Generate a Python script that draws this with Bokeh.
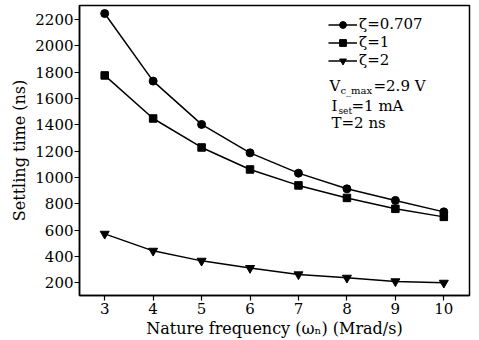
from bokeh.plotting import figure
from bokeh.models import Legend, LegendItem, Label, Range1d, FixedTicker
from bokeh.embed import file_html
from bokeh.resources import INLINE

freq = [3, 4, 5, 6, 7, 8, 9, 10]
zeta_0707 = [2245, 1732, 1403, 1187, 1033, 914, 826, 739]
zeta_1 = [1775, 1448, 1228, 1061, 940, 845, 762, 701]
zeta_2 = [572, 443, 367, 312, 264, 238, 211, 200]
y_ticks = [200, 400, 600, 800, 1000, 1200, 1400, 1600, 1800, 2000, 2200]
x_ticks = [3, 4, 5, 6, 7, 8, 9, 10]

FONT = "DejaVu Serif"

p = figure(width=479, height=340, output_backend="svg", toolbar_location=None,
           x_range=Range1d(2.48, 10.53), y_range=Range1d(104, 2306),
           min_border_left=79, min_border_right=10, min_border_top=5, min_border_bottom=45)
p.grid.visible = False
p.outline_line_color = "black"
p.outline_line_width = 1.5
p.background_fill_color = "white"
p.border_fill_color = "white"

for ax in (p.xaxis[0], p.yaxis[0]):
    ax.axis_line_width = 1.5
    ax.major_tick_line_width = 1.2
    ax.major_tick_in = 0
    ax.major_tick_out = 5
    ax.minor_tick_line_color = None
    ax.major_label_text_font = FONT
    ax.major_label_text_font_size = "15px"
    ax.major_label_text_color = "black"
    ax.axis_label_text_font = FONT
    ax.axis_label_text_font_size = "16px"
    ax.axis_label_text_font_style = "normal"
    ax.axis_label_text_color = "black"

p.xaxis.ticker = FixedTicker(ticks=x_ticks)
p.yaxis.ticker = FixedTicker(ticks=y_ticks)
p.xaxis.major_label_standoff = 2
p.yaxis.major_label_standoff = 1
p.xaxis.axis_label = "Nature frequency (ωₙ) (Mrad/s)"
p.yaxis.axis_label = "Settling time (ns)"
p.xaxis.axis_label_standoff = 2
p.yaxis.axis_label_standoff = 3

l1 = p.line(freq, zeta_0707, line_color="black", line_width=1.5)
s1 = p.scatter(freq, zeta_0707, marker="circle", size=8, color="black")
l2 = p.line(freq, zeta_1, line_color="black", line_width=1.5)
s2 = p.scatter(freq, zeta_1, marker="square", size=7.5, color="black")
l3 = p.line(freq, zeta_2, line_color="black", line_width=1.5)
s3 = p.scatter(freq, zeta_2, marker="inverted_triangle", size=9, color="black")

legend = Legend(items=[
    LegendItem(label="ζ=0.707", renderers=[l1, s1]),
    LegendItem(label="ζ=1", renderers=[l2, s2]),
    LegendItem(label="ζ=2", renderers=[l3, s3]),
], location=(249, 226))
legend.border_line_color = None
legend.background_fill_alpha = 0
legend.padding = 0
legend.margin = 0
legend.spacing = 0
legend.glyph_width = 29
legend.glyph_height = 17
legend.label_height = 17
legend.label_standoff = 2
legend.label_text_font = FONT
legend.label_text_font_size = "15px"
legend.label_text_color = "black"
legend.label_text_baseline = "middle"
p.add_layout(legend, "center")

def lab(x, y, t, size="15px"):
    p.add_layout(Label(x=x, y=y, x_units="screen", y_units="screen", text=t,
                       text_font=FONT, text_font_size=size, text_color="black",
                       text_baseline="alphabetic"))

# screen y measured from frame bottom (frame bottom at 295)
lab(250, 210, "V")
lab(261, 205, "c_max", "10px")
lab(294, 210, "=2.9 V")
lab(252, 190, "I")
lab(259, 185, "set", "9px")
lab(272, 190, "=1 mA")
lab(252, 173, "T=2 ns")

open("out.html", "w").write(file_html(p, INLINE))
